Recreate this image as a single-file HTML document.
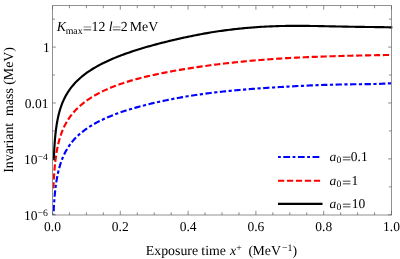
<!DOCTYPE html>
<html><head><meta charset="utf-8"><title>plot</title>
<style>html,body{margin:0;padding:0;background:#fff;font-family:"Liberation Serif",serif;}svg text{white-space:pre;text-rendering:geometricPrecision}</style>
</head><body>
<svg width="400" height="259" viewBox="0 0 400 259" style="display:block;will-change:transform">
<rect width="400" height="259" fill="#fff"/>
<clipPath id="c"><rect x="52.5" y="5.5" width="340.1" height="209.9"/></clipPath>
<g clip-path="url(#c)" fill="none" stroke-width="2.15" stroke-linejoin="round">
<path d="M53.51,214.49 L53.56,213.28 L53.62,212.08 L53.67,210.87 L53.73,209.66 L53.79,208.46 L53.86,207.25 L53.93,206.04 L54.00,204.83 L54.08,203.63 L54.16,202.42 L54.24,201.21 L54.33,200.00 L54.42,198.79 L54.52,197.58 L54.62,196.37 L54.73,195.16 L54.84,193.95 L54.96,192.73 L55.09,191.52 L55.22,190.31 L55.36,189.10 L55.50,187.88 L55.65,186.67 L55.81,185.46 L55.98,184.24 L56.16,183.03 L56.34,181.81 L56.54,180.59 L56.74,179.38 L56.96,178.16 L57.18,176.94 L57.42,175.73 L57.67,174.51 L57.93,173.29 L58.21,172.07 L58.50,170.85 L58.80,169.63 L59.12,168.42 L59.46,167.20 L59.81,165.98 L60.18,164.76 L60.57,163.54 L60.98,162.32 L61.41,161.10 L61.86,159.88 L62.34,158.66 L62.84,157.45 L63.36,156.23 L63.91,155.01 L64.49,153.80 L65.10,152.58 L65.74,151.37 L66.41,150.16 L67.11,148.95 L67.85,147.75 L68.63,146.54 L69.45,145.34 L71.07,143.13 L72.69,141.12 L74.31,139.27 L75.92,137.56 L77.54,135.98 L79.16,134.50 L80.78,133.11 L82.40,131.81 L84.02,130.57 L85.63,129.39 L87.25,128.26 L88.87,127.18 L90.49,126.15 L92.11,125.16 L93.73,124.21 L95.34,123.30 L96.96,122.42 L98.58,121.57 L100.20,120.75 L101.82,119.97 L103.44,119.21 L105.05,118.47 L106.67,117.76 L108.29,117.07 L109.91,116.40 L111.53,115.74 L113.15,115.09 L114.76,114.47 L116.38,113.85 L118.00,113.26 L119.62,112.67 L121.24,112.10 L122.86,111.55 L124.47,111.01 L126.09,110.49 L127.71,109.97 L129.33,109.48 L130.95,109.00 L132.57,108.52 L134.18,108.06 L135.80,107.60 L137.42,107.15 L139.04,106.71 L140.66,106.28 L142.28,105.85 L143.89,105.43 L145.51,105.01 L147.13,104.61 L148.75,104.21 L150.37,103.81 L151.99,103.42 L153.60,103.04 L155.22,102.66 L156.84,102.29 L158.46,101.93 L160.08,101.57 L161.70,101.21 L163.31,100.87 L164.93,100.52 L166.55,100.19 L168.17,99.85 L169.79,99.53 L171.41,99.21 L173.02,98.89 L174.64,98.58 L176.26,98.28 L177.88,97.98 L179.50,97.69 L181.12,97.40 L182.73,97.11 L184.35,96.84 L185.97,96.56 L187.59,96.29 L189.21,96.03 L190.83,95.77 L192.44,95.52 L194.06,95.27 L195.68,95.03 L197.30,94.79 L198.92,94.55 L200.54,94.32 L202.15,94.10 L203.77,93.87 L205.39,93.66 L207.01,93.44 L208.63,93.24 L210.25,93.03 L211.86,92.83 L213.48,92.64 L215.10,92.44 L216.72,92.26 L218.34,92.07 L219.96,91.89 L221.57,91.71 L223.19,91.54 L224.81,91.37 L226.43,91.20 L228.05,91.04 L229.67,90.88 L231.28,90.72 L232.90,90.57 L234.52,90.41 L236.14,90.27 L237.76,90.12 L239.38,89.98 L240.99,89.83 L242.61,89.70 L244.23,89.56 L245.85,89.43 L247.47,89.30 L249.09,89.17 L250.70,89.04 L252.32,88.91 L253.94,88.79 L255.56,88.67 L257.18,88.55 L258.80,88.43 L260.41,88.32 L262.03,88.20 L263.65,88.09 L265.27,87.98 L266.89,87.87 L268.51,87.76 L270.12,87.65 L271.74,87.55 L273.36,87.45 L274.98,87.34 L276.60,87.24 L278.22,87.14 L279.83,87.04 L281.45,86.95 L283.07,86.85 L284.69,86.76 L286.31,86.66 L287.93,86.57 L289.54,86.48 L291.16,86.39 L292.78,86.31 L294.40,86.22 L296.02,86.13 L297.64,86.05 L299.25,85.97 L300.87,85.89 L302.49,85.81 L304.11,85.73 L305.73,85.66 L307.35,85.58 L308.96,85.51 L310.58,85.44 L312.20,85.37 L313.82,85.31 L315.44,85.24 L317.06,85.18 L318.67,85.12 L320.29,85.06 L321.91,85.00 L323.53,84.94 L325.15,84.89 L326.77,84.84 L328.38,84.79 L330.00,84.74 L331.62,84.70 L333.24,84.66 L334.86,84.62 L336.48,84.58 L338.09,84.54 L339.71,84.51 L341.33,84.48 L342.95,84.45 L344.57,84.42 L346.19,84.39 L347.80,84.37 L349.42,84.34 L351.04,84.32 L352.66,84.30 L354.28,84.28 L355.90,84.26 L357.51,84.24 L359.13,84.22 L360.75,84.20 L362.37,84.18 L363.99,84.16 L365.61,84.14 L367.22,84.12 L368.84,84.09 L370.46,84.06 L372.08,84.03 L373.70,84.00 L375.32,83.96 L376.93,83.92 L378.55,83.87 L380.17,83.82 L381.79,83.76 L383.41,83.69 L385.03,83.61 L386.64,83.53 L388.26,83.43 L389.88,83.32 L391.50,83.20" stroke="#0000ff" stroke-dasharray="6.3 2.5 3.2 2.5" stroke-dashoffset="11.2"/>
<path d="M53.42,188.57 L53.46,187.37 L53.51,186.16 L53.56,184.96 L53.62,183.76 L53.67,182.56 L53.73,181.36 L53.79,180.16 L53.86,178.96 L53.93,177.76 L54.00,176.55 L54.08,175.35 L54.16,174.15 L54.24,172.95 L54.33,171.75 L54.42,170.55 L54.52,169.35 L54.62,168.14 L54.73,166.94 L54.84,165.74 L54.96,164.54 L55.09,163.34 L55.22,162.14 L55.36,160.93 L55.50,159.73 L55.65,158.53 L55.81,157.33 L55.98,156.13 L56.16,154.93 L56.34,153.72 L56.54,152.52 L56.74,151.32 L56.96,150.12 L57.18,148.92 L57.42,147.71 L57.67,146.51 L57.93,145.31 L58.21,144.11 L58.50,142.90 L58.80,141.70 L59.12,140.50 L59.46,139.30 L59.81,138.09 L60.18,136.89 L60.57,135.69 L60.98,134.49 L61.41,133.28 L61.86,132.08 L62.34,130.88 L62.84,129.68 L63.36,128.47 L63.91,127.27 L64.49,126.07 L65.10,124.87 L65.74,123.66 L66.41,122.46 L67.11,121.26 L67.85,120.06 L68.63,118.85 L69.45,117.65 L71.07,115.44 L72.69,113.41 L74.31,111.54 L75.92,109.80 L77.54,108.18 L79.16,106.66 L80.78,105.24 L82.40,103.89 L84.02,102.61 L85.63,101.39 L87.25,100.23 L88.87,99.12 L90.49,98.06 L92.11,97.04 L93.73,96.06 L95.34,95.12 L96.96,94.21 L98.58,93.34 L100.20,92.50 L101.82,91.69 L103.44,90.90 L105.05,90.15 L106.67,89.42 L108.29,88.71 L109.91,88.02 L111.53,87.36 L113.15,86.71 L114.76,86.08 L116.38,85.46 L118.00,84.87 L119.62,84.29 L121.24,83.72 L122.86,83.17 L124.47,82.64 L126.09,82.12 L127.71,81.62 L129.33,81.13 L130.95,80.65 L132.57,80.19 L134.18,79.73 L135.80,79.29 L137.42,78.85 L139.04,78.42 L140.66,78.01 L142.28,77.60 L143.89,77.19 L145.51,76.80 L147.13,76.41 L148.75,76.04 L150.37,75.66 L151.99,75.30 L153.60,74.94 L155.22,74.59 L156.84,74.24 L158.46,73.90 L160.08,73.56 L161.70,73.23 L163.31,72.91 L164.93,72.59 L166.55,72.27 L168.17,71.96 L169.79,71.66 L171.41,71.36 L173.02,71.06 L174.64,70.77 L176.26,70.48 L177.88,70.20 L179.50,69.92 L181.12,69.65 L182.73,69.38 L184.35,69.11 L185.97,68.85 L187.59,68.59 L189.21,68.33 L190.83,68.08 L192.44,67.83 L194.06,67.58 L195.68,67.34 L197.30,67.10 L198.92,66.86 L200.54,66.63 L202.15,66.40 L203.77,66.17 L205.39,65.95 L207.01,65.73 L208.63,65.51 L210.25,65.29 L211.86,65.08 L213.48,64.87 L215.10,64.67 L216.72,64.46 L218.34,64.26 L219.96,64.06 L221.57,63.87 L223.19,63.67 L224.81,63.48 L226.43,63.30 L228.05,63.11 L229.67,62.93 L231.28,62.75 L232.90,62.57 L234.52,62.40 L236.14,62.23 L237.76,62.06 L239.38,61.89 L240.99,61.73 L242.61,61.57 L244.23,61.41 L245.85,61.25 L247.47,61.10 L249.09,60.95 L250.70,60.80 L252.32,60.65 L253.94,60.51 L255.56,60.37 L257.18,60.23 L258.80,60.10 L260.41,59.97 L262.03,59.84 L263.65,59.71 L265.27,59.58 L266.89,59.46 L268.51,59.34 L270.12,59.22 L271.74,59.11 L273.36,58.99 L274.98,58.88 L276.60,58.78 L278.22,58.67 L279.83,58.57 L281.45,58.47 L283.07,58.37 L284.69,58.27 L286.31,58.18 L287.93,58.08 L289.54,57.99 L291.16,57.91 L292.78,57.82 L294.40,57.74 L296.02,57.65 L297.64,57.58 L299.25,57.50 L300.87,57.42 L302.49,57.35 L304.11,57.27 L305.73,57.20 L307.35,57.13 L308.96,57.07 L310.58,57.00 L312.20,56.93 L313.82,56.87 L315.44,56.81 L317.06,56.75 L318.67,56.69 L320.29,56.63 L321.91,56.57 L323.53,56.52 L325.15,56.46 L326.77,56.41 L328.38,56.35 L330.00,56.30 L331.62,56.25 L333.24,56.20 L334.86,56.15 L336.48,56.11 L338.09,56.06 L339.71,56.01 L341.33,55.97 L342.95,55.93 L344.57,55.88 L346.19,55.84 L347.80,55.80 L349.42,55.76 L351.04,55.72 L352.66,55.68 L354.28,55.64 L355.90,55.60 L357.51,55.56 L359.13,55.53 L360.75,55.49 L362.37,55.46 L363.99,55.42 L365.61,55.39 L367.22,55.36 L368.84,55.33 L370.46,55.29 L372.08,55.26 L373.70,55.23 L375.32,55.20 L376.93,55.17 L378.55,55.15 L380.17,55.12 L381.79,55.10 L383.41,55.07 L385.03,55.05 L386.64,55.03 L388.26,55.01 L389.88,54.99 L391.50,54.98" stroke="#ff0000" stroke-dasharray="6.2 2.7" stroke-dashoffset="8.72"/>
<path d="M53.81,160.31 L53.86,159.11 L53.90,157.91 L53.95,156.71 L53.99,155.51 L54.05,154.31 L54.10,153.11 L54.16,151.92 L54.22,150.72 L54.28,149.52 L54.35,148.32 L54.41,147.13 L54.49,145.93 L54.57,144.73 L54.65,143.53 L54.73,142.34 L54.82,141.14 L54.92,139.94 L55.02,138.75 L55.12,137.55 L55.23,136.35 L55.35,135.16 L55.47,133.96 L55.60,132.77 L55.74,131.57 L55.88,130.38 L56.03,129.18 L56.19,127.99 L56.36,126.79 L56.53,125.60 L56.72,124.41 L56.92,123.21 L57.12,122.02 L57.34,120.83 L57.57,119.63 L57.81,118.44 L58.06,117.25 L58.33,116.06 L58.61,114.87 L58.91,113.68 L59.22,112.49 L59.55,111.30 L59.89,110.11 L60.25,108.92 L60.64,107.73 L61.04,106.54 L61.46,105.35 L61.91,104.16 L62.38,102.97 L62.87,101.78 L63.39,100.59 L63.94,99.40 L64.51,98.21 L65.12,97.02 L65.75,95.83 L66.42,94.65 L67.13,93.46 L67.86,92.27 L68.64,91.08 L69.46,89.89 L71.07,87.69 L72.69,85.68 L74.31,83.81 L75.92,82.08 L77.54,80.47 L79.16,78.95 L80.78,77.51 L82.40,76.16 L84.02,74.87 L85.63,73.65 L87.25,72.48 L88.87,71.36 L90.49,70.29 L92.11,69.26 L93.73,68.27 L95.34,67.31 L96.96,66.39 L98.58,65.50 L100.20,64.64 L101.82,63.80 L103.44,62.99 L105.05,62.20 L106.67,61.43 L108.29,60.69 L109.91,59.96 L111.53,59.25 L113.15,58.56 L114.76,57.88 L116.38,57.22 L118.00,56.58 L119.62,55.95 L121.24,55.33 L122.86,54.72 L124.47,54.13 L126.09,53.55 L127.71,52.98 L129.33,52.42 L130.95,51.86 L132.57,51.32 L134.18,50.79 L135.80,50.27 L137.42,49.75 L139.04,49.25 L140.66,48.75 L142.28,48.26 L143.89,47.78 L145.51,47.30 L147.13,46.83 L148.75,46.37 L150.37,45.91 L151.99,45.47 L153.60,45.02 L155.22,44.59 L156.84,44.16 L158.46,43.73 L160.08,43.31 L161.70,42.90 L163.31,42.49 L164.93,42.09 L166.55,41.69 L168.17,41.30 L169.79,40.90 L171.41,40.52 L173.02,40.13 L174.64,39.76 L176.26,39.38 L177.88,39.01 L179.50,38.64 L181.12,38.28 L182.73,37.92 L184.35,37.56 L185.97,37.21 L187.59,36.87 L189.21,36.53 L190.83,36.19 L192.44,35.86 L194.06,35.53 L195.68,35.21 L197.30,34.89 L198.92,34.58 L200.54,34.28 L202.15,33.98 L203.77,33.68 L205.39,33.39 L207.01,33.11 L208.63,32.84 L210.25,32.56 L211.86,32.30 L213.48,32.04 L215.10,31.79 L216.72,31.54 L218.34,31.30 L219.96,31.06 L221.57,30.83 L223.19,30.60 L224.81,30.38 L226.43,30.17 L228.05,29.96 L229.67,29.75 L231.28,29.56 L232.90,29.36 L234.52,29.17 L236.14,28.99 L237.76,28.82 L239.38,28.64 L240.99,28.48 L242.61,28.32 L244.23,28.16 L245.85,28.01 L247.47,27.87 L249.09,27.73 L250.70,27.60 L252.32,27.47 L253.94,27.34 L255.56,27.23 L257.18,27.11 L258.80,27.00 L260.41,26.90 L262.03,26.80 L263.65,26.71 L265.27,26.62 L266.89,26.54 L268.51,26.46 L270.12,26.39 L271.74,26.32 L273.36,26.26 L274.98,26.20 L276.60,26.15 L278.22,26.10 L279.83,26.05 L281.45,26.01 L283.07,25.98 L284.69,25.95 L286.31,25.92 L287.93,25.90 L289.54,25.88 L291.16,25.87 L292.78,25.85 L294.40,25.85 L296.02,25.84 L297.64,25.84 L299.25,25.85 L300.87,25.85 L302.49,25.86 L304.11,25.88 L305.73,25.89 L307.35,25.91 L308.96,25.93 L310.58,25.95 L312.20,25.97 L313.82,26.00 L315.44,26.02 L317.06,26.05 L318.67,26.08 L320.29,26.11 L321.91,26.15 L323.53,26.18 L325.15,26.21 L326.77,26.25 L328.38,26.28 L330.00,26.31 L331.62,26.35 L333.24,26.38 L334.86,26.42 L336.48,26.45 L338.09,26.49 L339.71,26.52 L341.33,26.55 L342.95,26.59 L344.57,26.62 L346.19,26.65 L347.80,26.68 L349.42,26.71 L351.04,26.74 L352.66,26.77 L354.28,26.79 L355.90,26.82 L357.51,26.84 L359.13,26.87 L360.75,26.89 L362.37,26.91 L363.99,26.93 L365.61,26.95 L367.22,26.97 L368.84,26.99 L370.46,27.01 L372.08,27.03 L373.70,27.05 L375.32,27.07 L376.93,27.09 L378.55,27.11 L380.17,27.14 L381.79,27.16 L383.41,27.19 L385.03,27.22 L386.64,27.25 L388.26,27.28 L389.88,27.32 L391.50,27.36 L392.5,27.38" stroke="#000"/>
</g>
<path d="M52.5,215.0V5.5H391.5V215.0M52.15,215.0H391.85" fill="none" stroke="#666" stroke-width="0.72"/>
<path d="M52.50,215.0v-4.2M52.50,5.5v4.2M69.45,215.0v-2.7M69.45,5.5v2.7M86.40,215.0v-2.7M86.40,5.5v2.7M103.35,215.0v-2.7M103.35,5.5v2.7M120.30,215.0v-4.2M120.30,5.5v4.2M137.25,215.0v-2.7M137.25,5.5v2.7M154.20,215.0v-2.7M154.20,5.5v2.7M171.15,215.0v-2.7M171.15,5.5v2.7M188.10,215.0v-4.2M188.10,5.5v4.2M205.05,215.0v-2.7M205.05,5.5v2.7M222.00,215.0v-2.7M222.00,5.5v2.7M238.95,215.0v-2.7M238.95,5.5v2.7M255.90,215.0v-4.2M255.90,5.5v4.2M272.85,215.0v-2.7M272.85,5.5v2.7M289.80,215.0v-2.7M289.80,5.5v2.7M306.75,215.0v-2.7M306.75,5.5v2.7M323.70,215.0v-4.2M323.70,5.5v4.2M340.65,215.0v-2.7M340.65,5.5v2.7M357.60,215.0v-2.7M357.60,5.5v2.7M374.55,215.0v-2.7M374.55,5.5v2.7M391.50,215.0v-4.2M391.50,5.5v4.2M52.5,214.78h3.4M391.5,214.78h-3.4M52.5,186.83h2.5M391.5,186.83h-2.5M52.5,158.88h3.4M391.5,158.88h-3.4M52.5,130.93h2.5M391.5,130.93h-2.5M52.5,102.98h3.4M391.5,102.98h-3.4M52.5,75.03h2.5M391.5,75.03h-2.5M52.5,47.08h3.4M391.5,47.08h-3.4M52.5,19.13h2.5M391.5,19.13h-2.5" stroke="#666" stroke-width="0.75" fill="none"/>
<g fill="none" stroke-width="2.15">
<path d="M278,157H319.3" stroke="#0000ff" stroke-dasharray="2.8 2.5 6.8 2.5"/>
<path d="M278,180.75H320.1" stroke="#ff0000" stroke-dasharray="6.2 2.77"/>
<path d="M278,203.9H322.5" stroke="#000"/>
</g>
<g font-family="'Liberation Serif', serif" fill="#000">
<text x="52.50" y="231.25" font-size="13.5" text-anchor="middle">0.0</text>
<text x="120.30" y="231.25" font-size="13.5" text-anchor="middle">0.2</text>
<text x="188.10" y="231.25" font-size="13.5" text-anchor="middle">0.4</text>
<text x="255.90" y="231.25" font-size="13.5" text-anchor="middle">0.6</text>
<text x="323.70" y="231.25" font-size="13.5" text-anchor="middle">0.8</text>
<text x="391.50" y="231.25" font-size="13.5" text-anchor="middle">1.0</text>
<text font-size="13.5"><tspan x="56.64" y="30.9" font-size="13.85" font-style="italic">K</tspan><tspan x="65.67" y="33.6" font-size="9.9">max</tspan><tspan x="82.80" y="32.50" textLength="9.3" lengthAdjust="spacingAndGlyphs" font-size="13.85">=</tspan><tspan x="91.62" y="30.9" font-size="13.85">12</tspan><tspan x="108.64" y="30.9" font-size="13.85" font-style="italic">l</tspan><tspan x="112.00" y="32.50" textLength="9.3" lengthAdjust="spacingAndGlyphs" font-size="13.85">=</tspan><tspan x="120.74" y="30.9" font-size="13.85">2</tspan><tspan x="129.8" y="30.9" font-size="13.85">MeV</tspan></text>
<text font-size="13.5"><tspan x="43.08" y="51.7">1</tspan></text>
<text font-size="13.5"><tspan x="24.8" y="107.75">0.01</tspan></text>
<text font-size="13.5"><tspan x="23.88" y="163.75">10</tspan><tspan x="37.67" y="160.0" font-size="9.7">−4</tspan></text>
<text font-size="13.5"><tspan x="23.88" y="219.75">10</tspan><tspan x="37.58" y="215.7" font-size="9.7">−6</tspan></text>
<text font-size="13.5"><tspan x="145.79" y="254.8" font-size="13.85">Exposure</tspan><tspan x="201.3" y="254.8" font-size="13.85">time</tspan><tspan x="229.98" y="254.8" font-size="13.85" font-style="italic">x</tspan><tspan x="236.37" y="250.6" font-size="9.9">+</tspan><tspan x="248.5" y="254.8" font-size="13.85">(</tspan><tspan x="252.55" y="254.8" font-size="13.85">MeV</tspan><tspan x="281.92" y="251.2" font-size="9.9">−1</tspan><tspan x="292.38" y="254.8" font-size="13.85">)</tspan></text>
<text font-size="13.5"><tspan x="329.48" y="161.3" font-style="italic">a</tspan><tspan x="336.45" y="163.4" font-size="9.7">0</tspan><tspan x="341.90" y="162.90" textLength="9.3" lengthAdjust="spacingAndGlyphs">=</tspan><tspan x="350.82" y="161.3">0.1</tspan></text>
<text font-size="13.5"><tspan x="329.48" y="184.9" font-style="italic">a</tspan><tspan x="336.45" y="187.0" font-size="9.7">0</tspan><tspan x="341.90" y="186.50" textLength="9.3" lengthAdjust="spacingAndGlyphs">=</tspan><tspan x="351.58" y="184.9">1</tspan></text>
<text font-size="13.5"><tspan x="329.48" y="208.2" font-style="italic">a</tspan><tspan x="336.45" y="210.29999999999998" font-size="9.7">0</tspan><tspan x="341.90" y="209.80" textLength="9.3" lengthAdjust="spacingAndGlyphs">=</tspan><tspan x="351.75" y="208.2">10</tspan></text>
<text transform="translate(13,172.8) rotate(-90)" font-size="13.85" xml:space="preserve">Invariant  mass (MeV)</text>
</g>
</svg>
</body></html>
